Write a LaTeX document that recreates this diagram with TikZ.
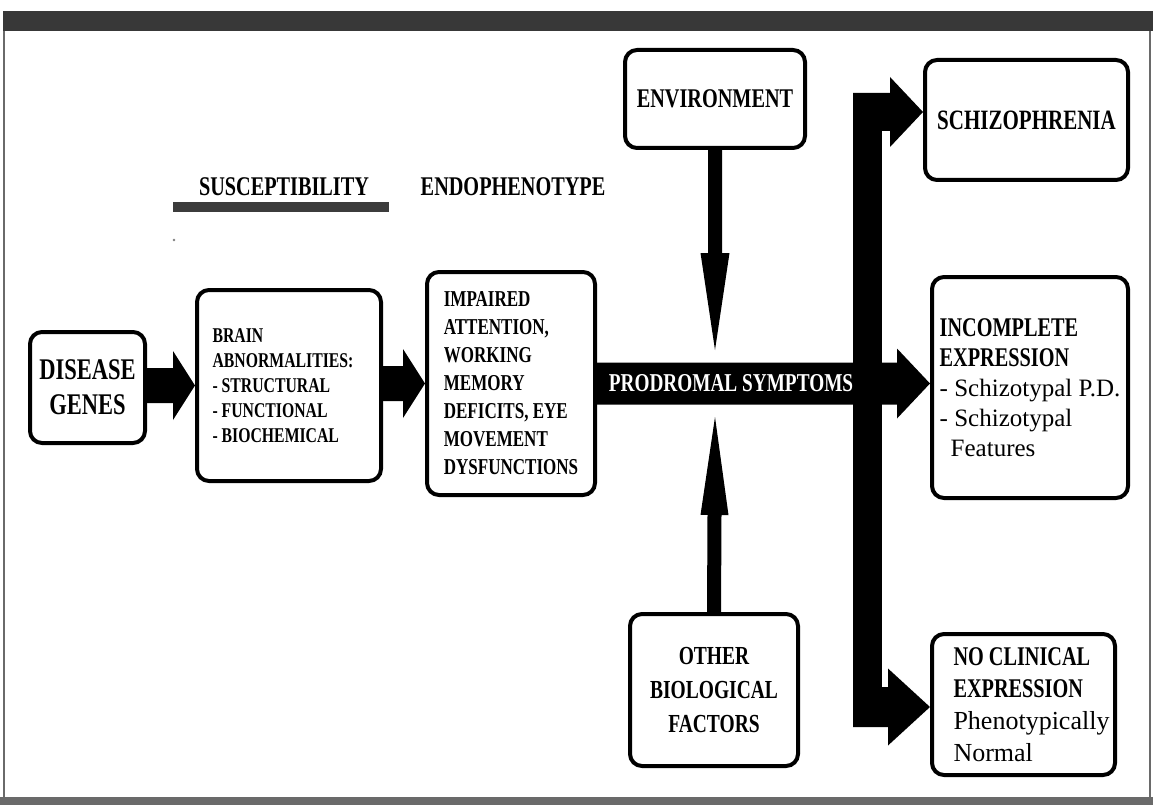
\documentclass[tikz,border=0pt]{standalone}
\usepackage{fontspec}
\setmainfont{Liberation Serif}
\newfontfamily\hd[FakeStretch=0.75]{Liberation Serif}
\newfontfamily\lc{Liberation Serif}
\usetikzlibrary{calc}
\definecolor{topbar}{HTML}{383838}
\definecolor{edgegray}{HTML}{6A6A6A}
\definecolor{ulgray}{HTML}{3C3C3C}
% fat arrow: #1 start, #2 tip (coordinate names), #3 shaft half width, #4 head half width, #5 head length
\newcommand\fatarrow[5]{%
  \coordinate (fa-h) at ($(#2)!#5!(#1)$);
  \fill ($(#1)!#3!90:(#2)$) -- ($(fa-h)!#3!90:(#2)$) -- ($(fa-h)!#4!90:(#2)$) -- (#2)
     -- ($(fa-h)!#4!-90:(#2)$) -- ($(fa-h)!#3!-90:(#2)$) -- ($(#1)!#3!-90:(#2)$) -- cycle;}
\newcommand\ind{\hspace*{16pt}}
\begin{document}
\begin{tikzpicture}[x=1pt,y=-1pt,
  box/.style={draw, line width=4pt, rounded corners=12pt, inner sep=0pt}]
\useasboundingbox (0,0) rectangle (1153,805);
\fill[white] (0,0) rectangle (1153,805);
% frame
\fill[topbar] (3,11) rectangle (1153,31);
\fill[edgegray] (3,31) rectangle (5,797);
\fill[edgegray] (1149,31) rectangle (1151,797);
\fill[edgegray] (0,797) rectangle (1153,805);

% headings
\node[font=\hd\bfseries\fontsize{27}{27}\selectfont, inner sep=0pt] (susc) at (284,187) {SUSCEPTIBILITY};
\fill[ulgray] (173,202) rectangle (389,212);
\node[font=\hd\bfseries\fontsize{27}{27}\selectfont, inner sep=0pt] (endo) at (513,187) {ENDOPHENOTYPE};
\fill[gray] (174,240) circle (1.3);

% boxes
\node[box, minimum width=115, minimum height=111, align=center,
  font=\hd\bfseries\fontsize{30}{35}\selectfont] (dg) at (87.5,387.5) {DISEASE\\GENES};
\node[box, minimum width=184, minimum height=191, align=left,
  font=\hd\bfseries\fontsize{21}{25}\selectfont] (brain) at (289,385.5)
  {BRAIN\\ABNORMALITIES:\rule{12pt}{0pt}\\- STRUCTURAL\\- FUNCTIONAL\\- BIOCHEMICAL};
\node[box, minimum width=168, minimum height=223, align=left,
  font=\hd\bfseries\fontsize{22.7}{28}\selectfont] (imp) at (511,383.5)
  {IMPAIRED\\ATTENTION,\\WORKING\\MEMORY\\DEFICITS, EYE\\MOVEMENT\\DYSFUNCTIONS};
\node[box, minimum width=180, minimum height=98, align=center,
  font=\hd\bfseries\fontsize{27}{27}\selectfont] (env) at (715,99) {ENVIRONMENT};
\node[box, minimum width=168, minimum height=152, align=center,
  font=\hd\bfseries\fontsize{26}{34}\selectfont] (other) at (714,690) {OTHER\\BIOLOGICAL\\FACTORS};
\node[box, minimum width=203, minimum height=120, align=center,
  font=\hd\bfseries\fontsize{28}{28}\selectfont] (schiz) at (1026.5,120) {SCHIZOPHRENIA};
\node[box, minimum width=196, minimum height=221, align=left,
  font=\hd\bfseries\fontsize{27}{30}\selectfont] (inc) at (1030,387.5)
  {INCOMPLETE\\EXPRESSION\\{\lc\mdseries\fontsize{25}{30}\selectfont - Schizotypal P.D.}\\
   {\lc\mdseries\fontsize{25}{30}\selectfont - Schizotypal}\\
   {\lc\mdseries\fontsize{25}{30}\selectfont\hspace{11pt}Features}};
\node[box, minimum width=183, minimum height=141, align=left,
  font=\hd\bfseries\fontsize{27}{32}\selectfont] (noclin) at (1023.5,704.5)
  {\ind NO CLINICAL\\\ind EXPRESSION\\{\lc\mdseries\fontsize{26}{32}\selectfont\ind Phenotypically}\\
   {\lc\mdseries\fontsize{26}{32}\selectfont\ind Normal}};

% arrows
\coordinate (a1) at (dg.east |- brain.west);
\fatarrow{a1}{brain.west}{17.5pt}{34.5pt}{22pt}
\coordinate (a2) at (brain.east |- imp.west);
\fatarrow{a2}{imp.west}{17.5pt}{34.5pt}{22pt}
\coordinate (a3) at (imp.east -| inc.west);
\fatarrow{imp.east}{a3}{21pt}{35pt}{33pt}

% trunk
\coordinate (trunktop) at (853,93);
\coordinate (trunkbot) at (882,727);
\fill (trunktop) rectangle (trunkbot);
\coordinate (tl) at (853,112);
\coordinate (tlend) at (tl -| schiz.west);
\fatarrow{tl}{tlend}{19pt}{35pt}{33pt}
\coordinate (bl) at (853,707);
\coordinate (blend) at (bl -| noclin.west);
\fatarrow{bl}{blend}{20pt}{38.5pt}{42pt}

\node[text=white, font=\hd\bfseries\fontsize{25.7}{25.7}\selectfont, inner sep=0pt] (prod) at (731,383) {PRODROMAL SYMPTOMS};

% vertical arrows
\coordinate (envtip) at (715,350);
\fatarrow{env.south}{envtip}{7pt}{14.5pt}{97pt}
\coordinate (othtip) at (715,417);
\fatarrow{other.north}{othtip}{7pt}{14pt}{98pt}
\end{tikzpicture}
\end{document}
